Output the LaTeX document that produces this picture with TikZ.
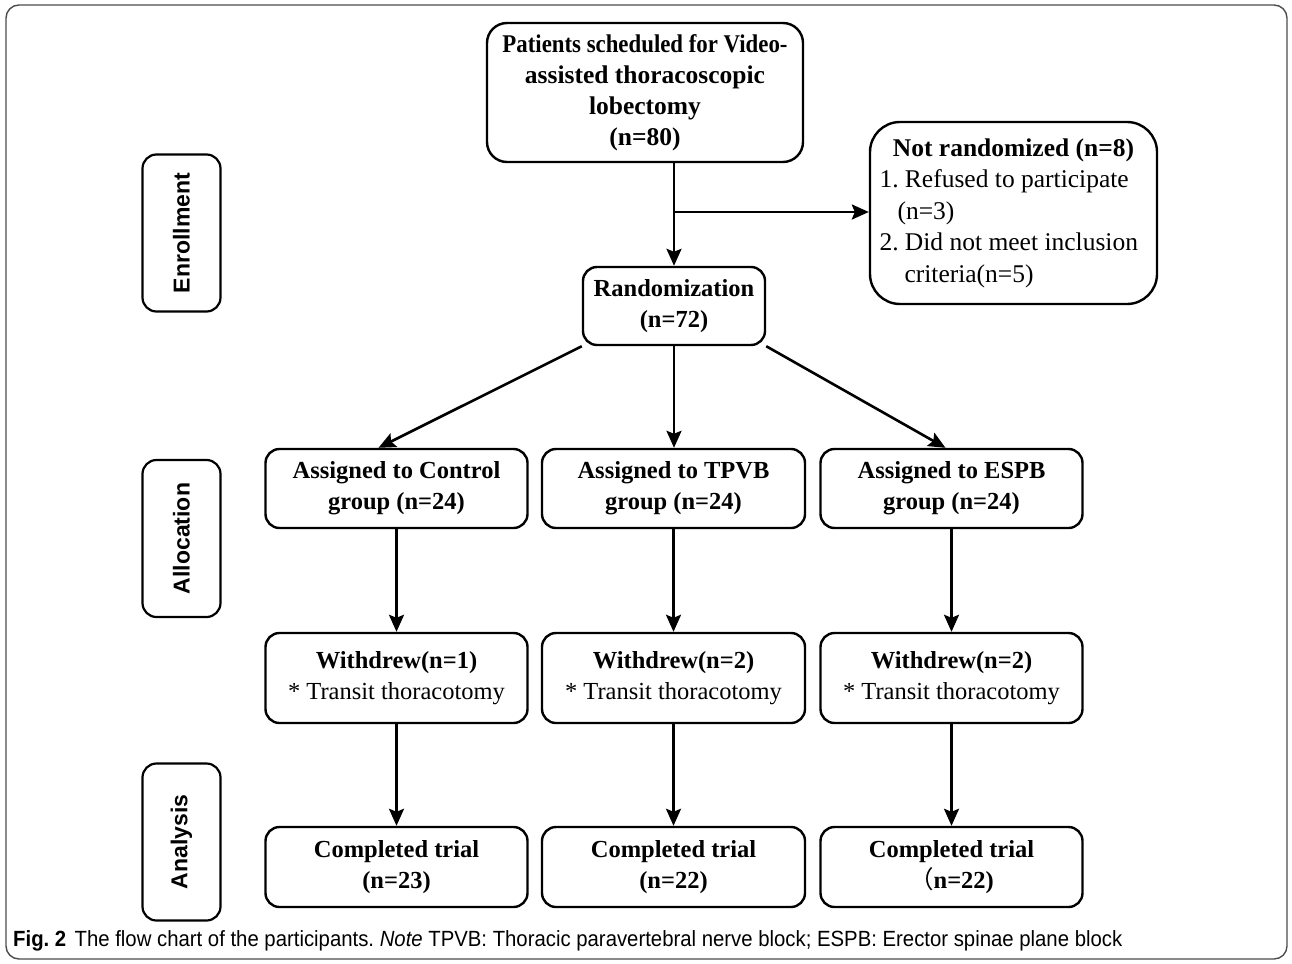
\documentclass[tikz,border=0pt]{standalone}
\usepackage{fontspec}
\usepackage{graphicx}
\setmainfont{Liberation Serif}
\newfontfamily\lsans{Liberation Sans}
\newfontfamily\cjkfont{Noto Sans CJK SC}
\usetikzlibrary{arrows.meta}
\frenchspacing
\begin{document}
\begin{tikzpicture}[x=1pt,y=-1pt,
  box/.style={draw,line width=2.4pt,rounded corners=14pt,inner sep=0pt,align=center,
    font=\fontsize{24.5}{31}\selectfont},
  side/.style={draw,line width=2.2pt,rounded corners=14pt,inner sep=0pt,
    minimum width=78pt,minimum height=157pt},
  sidetext/.style={rotate=90,font=\lsans\bfseries\fontsize{23}{27}\selectfont},
  arr/.style={line width=2.6pt,-{Stealth[length=17pt,width=15pt,inset=3pt]}},
  row/.style={box,minimum width=262pt}]
\useasboundingbox (0,0) rectangle (1292,963);
\draw[line width=1.4pt,color=black!70,rounded corners=13pt] (6,5) rectangle (1287,959);
% side labels
\node[side] (enr) at (181.5,233) {};
\node[sidetext] (enrt) at (enr.center) {Enrollment};
\node[side] (alc) at (181.5,538.5) {};
\node[sidetext] (alct) at (alc.center) {Allocation};
\node[side] (ana) at (181.5,842) {};
\node[sidetext] (anat) at (ana.center) {Analysis};
% main boxes
\node[box,rounded corners=20pt,minimum width=316pt,minimum height=139pt,
  font=\fontsize{25.5}{31}\selectfont] (top) at (645,92.5)
  {\bfseries\scalebox{0.895}[1]{Patients scheduled for Video-}\\\bfseries assisted thoracoscopic\\\bfseries lobectomy\\\bfseries (n=80)};
\node[box,rounded corners=30pt,minimum width=287pt,minimum height=182pt] (nr) at (1013.5,213)
  {\fontsize{25.5}{31.5}\selectfont\parbox{268pt}{{\centering\bfseries Not randomized (n=8)\par}
   \raggedright 1. Refused to participate\par
   \hspace*{18pt}(n=3)\par
   2. Did not meet inclusion\par
   \hspace*{25pt}criteria(n=5)}};
\node[box,minimum width=182pt,minimum height=78pt] (rand) at (674,306)
  {\bfseries Randomization\\\bfseries (n=72)};
% allocation
\node[row,minimum height=79pt] (c1) at (396.5,488.5) {\bfseries Assigned to Control\\\bfseries group (n=24)};
\node[row,minimum height=79pt,minimum width=263pt] (c2) at (673.5,488.5) {\bfseries Assigned to TPVB\\\bfseries group (n=24)};
\node[row,minimum height=79pt] (c3) at (951.5,488.5) {\bfseries Assigned to ESPB\\\bfseries group (n=24)};
% withdrew
\node[row,minimum height=90pt] (w1) at (396.5,678) {\bfseries Withdrew(n=1)\\* Transit thoracotomy};
\node[row,minimum height=90pt,minimum width=263pt] (w2) at (673.5,678) {\bfseries Withdrew(n=2)\\* Transit thoracotomy};
\node[row,minimum height=90pt] (w3) at (951.5,678) {\bfseries Withdrew(n=2)\\* Transit thoracotomy};
% completed
\node[row,minimum height=80pt] (f1) at (396.5,867) {\bfseries Completed trial\\\bfseries (n=23)};
\node[row,minimum height=80pt,minimum width=263pt] (f2) at (673.5,867) {\bfseries Completed trial\\\bfseries (n=22)};
\node[row,minimum height=80pt] (f3) at (951.5,867) {\bfseries Completed trial\\{\cjkfont （}\bfseries n=22)};
% connectors
\draw[arr] (top.south -| rand.north) -- (rand.north);
\coordinate (j) at (674,212);
\draw[arr] (j) -- (j -| nr.west);
\draw[arr] (rand.south west) -- ([xshift=-18pt]c1.north);
\draw[arr] (rand.south) -- (rand.south |- c2.north);
\draw[arr] (rand.south east) -- ([xshift=-6pt]c3.north);
\foreach \i in {1,2,3} {
  \draw[arr] (c\i.south) -- (w\i.north);
  \draw[arr] (w\i.south) -- (f\i.north);
}
% caption
\node[anchor=base west,inner sep=0pt] (cap) at (13,946)
  {\resizebox{1109pt}{\height}{\lsans\fontsize{22}{26}\selectfont\textbf{Fig. 2}\hspace{9pt}The flow chart of the participants. \textit{Note} TPVB: Thoracic paravertebral nerve block; ESPB: Erector spinae plane block}};
\end{tikzpicture}
\end{document}
